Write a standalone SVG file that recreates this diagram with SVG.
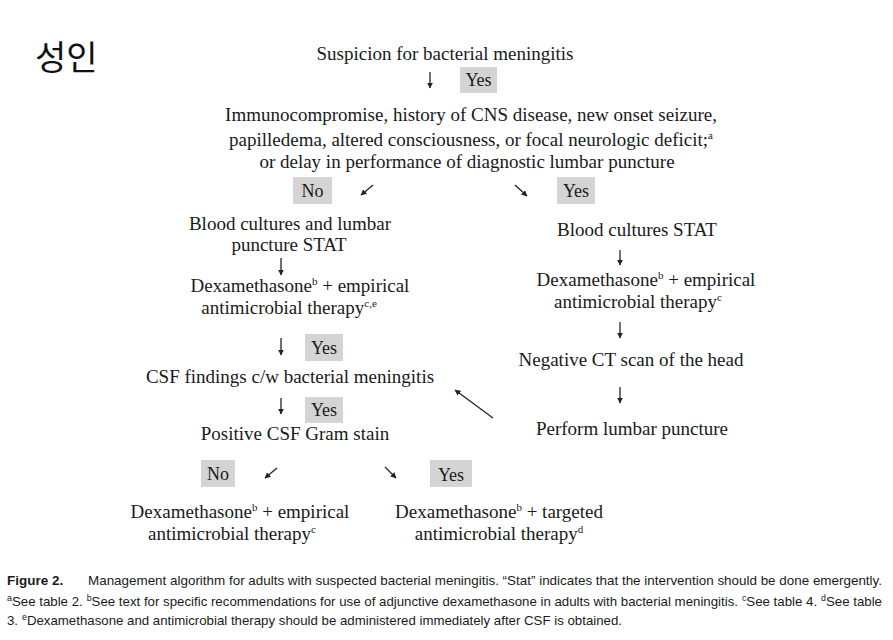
<svg xmlns="http://www.w3.org/2000/svg" width="893" height="640" viewBox="0 0 893 640">
<defs>
<marker id="ah" viewBox="0 0 10 10" refX="9" refY="5" markerWidth="6" markerHeight="6" markerUnits="userSpaceOnUse" orient="auto">
<path d="M0,0 L10,5 L0,10 z" fill="#222"/>
</marker>
<style>
.t{font-family:"Liberation Serif","Times New Roman",serif;font-size:19px;fill:#1a1a1a;text-anchor:middle}
.lb{font-family:"Liberation Serif","Times New Roman",serif;font-size:18px;fill:#1a1a1a;text-anchor:middle}
.box{fill:#d4d4d4}
.c{font-family:"Liberation Sans Narrow","Liberation Sans",Arial,sans-serif;font-size:13.5px;fill:#1a1a1a}
.sup{font-size:11px}
.cs{font-size:9px}
.ln{stroke:#222;stroke-width:1.3;fill:none}
</style>
</defs>
<rect width="893" height="640" fill="#ffffff"/>
<text x="35" y="70" font-family="'Noto Sans CJK KR','Noto Sans',sans-serif" font-size="34" fill="#111">성인</text>

<g id="n_suspicion"><text class="t" x="445" y="60">Suspicion for bacterial meningitis</text></g>
<g id="l_yes1"><rect class="box" x="460" y="67" width="37" height="26"/><text class="lb" x="478.5" y="86">Yes</text></g>
<g id="n_immuno">
<text class="t" x="471" y="121">Immunocompromise, history of CNS disease, new onset seizure,</text>
<text class="t" x="471" y="146">papilledema, altered consciousness, or focal neurologic deficit;<tspan class="sup" dy="-7">a</tspan></text>
<text class="t" x="467" y="168">or delay in performance of diagnostic lumbar puncture</text>
</g>
<g id="l_no1"><rect class="box" x="293" y="177" width="39" height="27"/><text class="lb" x="312.5" y="197">No</text></g>
<g id="l_yes2"><rect class="box" x="557" y="177" width="38" height="27"/><text class="lb" x="576" y="197">Yes</text></g>

<g id="n_bloodlp">
<text class="t" x="290" y="230">Blood cultures and lumbar</text>
<text class="t" x="289" y="251">puncture STAT</text>
</g>
<g id="n_dex1">
<text class="t" x="300" y="292">Dexamethasone<tspan class="sup" dy="-7">b</tspan><tspan dy="7"> + empirical</tspan></text>
<text class="t" x="289" y="314">antimicrobial therapy<tspan class="sup" dy="-7">c,e</tspan></text>
</g>
<g id="l_yes3"><rect class="box" x="305" y="334" width="38" height="27"/><text class="lb" x="324" y="354">Yes</text></g>
<g id="n_csf"><text class="t" x="290" y="383">CSF findings c/w bacterial meningitis</text></g>
<g id="l_yes4"><rect class="box" x="305" y="397" width="38" height="26"/><text class="lb" x="324" y="416">Yes</text></g>
<g id="n_gram"><text class="t" x="295" y="440">Positive CSF Gram stain</text></g>
<g id="l_no2"><rect class="box" x="201" y="460" width="34" height="27"/><text class="lb" x="218" y="480">No</text></g>
<g id="l_yes5"><rect class="box" x="430" y="460" width="42" height="27"/><text class="lb" x="451" y="481">Yes</text></g>
<g id="n_dex3">
<text class="t" x="240" y="518">Dexamethasone<tspan class="sup" dy="-7">b</tspan><tspan dy="7"> + empirical</tspan></text>
<text class="t" x="232" y="540">antimicrobial therapy<tspan class="sup" dy="-7">c</tspan></text>
</g>
<g id="n_dex4">
<text class="t" x="499" y="518">Dexamethasone<tspan class="sup" dy="-7">b</tspan><tspan dy="7"> + targeted</tspan></text>
<text class="t" x="499" y="540">antimicrobial therapy<tspan class="sup" dy="-7">d</tspan></text>
</g>

<g id="n_bloodstat"><text class="t" x="637" y="236">Blood cultures STAT</text></g>
<g id="n_dex2">
<text class="t" x="646" y="286">Dexamethasone<tspan class="sup" dy="-7">b</tspan><tspan dy="7"> + empirical</tspan></text>
<text class="t" x="638" y="308">antimicrobial therapy<tspan class="sup" dy="-7">c</tspan></text>
</g>
<g id="n_ct"><text class="t" x="631" y="366">Negative CT scan of the head</text></g>
<g id="n_lp"><text class="t" x="632" y="435">Perform lumbar puncture</text></g>

<g id="connectors">
<line class="ln" x1="430" y1="72" x2="430" y2="88" marker-end="url(#ah)"/>
<line class="ln" x1="373" y1="185" x2="361" y2="195" marker-end="url(#ah)"/>
<line class="ln" x1="515" y1="185" x2="527" y2="196" marker-end="url(#ah)"/>
<line class="ln" x1="281" y1="258" x2="281" y2="275" marker-end="url(#ah)"/>
<line class="ln" x1="281" y1="338" x2="281" y2="355" marker-end="url(#ah)"/>
<line class="ln" x1="281" y1="398" x2="281" y2="414" marker-end="url(#ah)"/>
<line class="ln" x1="277" y1="468" x2="265" y2="478" marker-end="url(#ah)"/>
<line class="ln" x1="385" y1="467" x2="396" y2="478" marker-end="url(#ah)"/>
<line class="ln" x1="620" y1="250" x2="620" y2="265" marker-end="url(#ah)"/>
<line class="ln" x1="620" y1="322" x2="620" y2="338" marker-end="url(#ah)"/>
<line class="ln" x1="620" y1="387" x2="620" y2="403" marker-end="url(#ah)"/>
<line class="ln" x1="493" y1="418" x2="455" y2="390" marker-end="url(#ah)"/>
</g>

<g id="caption">
<text class="c" x="7" y="585"><tspan font-weight="bold">Figure 2.</tspan></text>
<text class="c" x="88" y="585" textLength="794" lengthAdjust="spacingAndGlyphs">Management algorithm for adults with suspected bacterial meningitis. “Stat” indicates that the intervention should be done emergently.</text>
<text class="c" x="7" y="606" textLength="875" lengthAdjust="spacingAndGlyphs"><tspan class="cs" dy="-5">a</tspan><tspan dy="5">See table 2.</tspan><tspan class="cs" dx="4" dy="-5">b</tspan><tspan dy="5">See text for specific recommendations for use of adjunctive dexamethasone in adults with bacterial meningitis.</tspan><tspan class="cs" dx="4" dy="-5">c</tspan><tspan dy="5">See table 4.</tspan><tspan class="cs" dx="4" dy="-5">d</tspan><tspan dy="5">See table</tspan></text>
<text class="c" x="7" y="625" textLength="615" lengthAdjust="spacingAndGlyphs">3.<tspan class="cs" dx="4" dy="-5">e</tspan><tspan dy="5">Dexamethasone and antimicrobial therapy should be administered immediately after CSF is obtained.</tspan></text>
</g>
</svg>
